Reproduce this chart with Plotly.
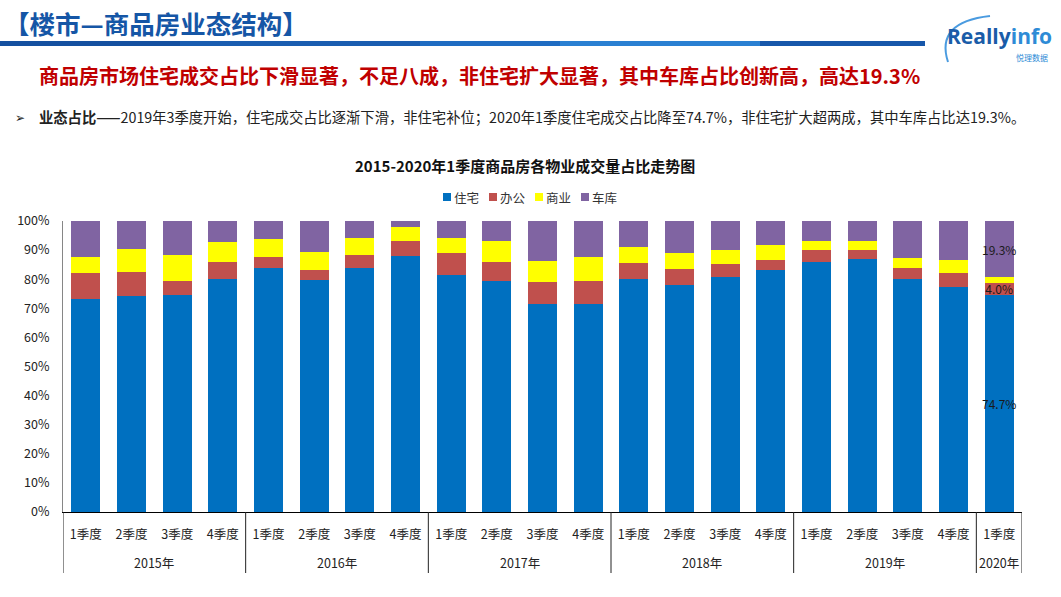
import plotly.graph_objects as go

# ---------------- data ----------------
years = ["2015年"] * 4 + ["2016年"] * 4 + ["2017年"] * 4 + ["2018年"] * 4 + ["2019年"] * 4 + ["2020年"]
quarters = ["1季度", "2季度", "3季度", "4季度"] * 5 + ["1季度"]
year_labels = ["2015年", "2016年", "2017年", "2018年", "2019年", "2020年"]

residential = [73.3, 74.3, 74.5, 80.0, 84.0, 79.7, 83.7, 88.0, 81.5, 79.3, 71.6,
               71.6, 80.2, 77.9, 80.6, 83.0, 85.9, 86.9, 80.0, 77.2, 74.7]
office = [8.9, 8.2, 4.9, 5.9, 3.6, 3.5, 4.7, 5.0, 7.6, 6.6, 7.5,
          7.9, 5.5, 5.7, 4.6, 3.7, 4.1, 3.2, 4.0, 4.8, 4.0]
commercial = [5.4, 8.0, 9.0, 6.8, 6.2, 6.0, 5.8, 5.0, 4.9, 7.4, 7.3,
              8.0, 5.5, 5.5, 4.9, 5.2, 3.2, 2.9, 3.3, 4.5, 2.0]
garage = [12.4, 9.5, 11.6, 7.3, 6.2, 10.8, 5.8, 2.0, 6.0, 6.7, 13.6,
          12.5, 8.8, 10.9, 9.9, 8.1, 6.8, 7.0, 12.7, 13.5, 19.3]

series_names = ["住宅", "办公", "商业", "车库"]
series_values = [residential, office, commercial, garage]
series_colors = ["#0070C0", "#C0504D", "#FFFF00", "#8064A2"]
labelled_series = {"住宅", "办公", "车库"}  # labels shown on the latest bar only

FONT = "Noto Sans CJK SC, Microsoft YaHei, sans-serif"

# category keys (year + quarter) shown with quarter tick text
categories = [y + q for y, q in zip(years, quarters)]

# plot-area geometry in pixels (for positioning decoration in paper coords)
W, H = 1061, 597
L, R_EDGE, TOP, BOT = 63, 1022, 221, 512


def px(x):
    return (x - L) / (R_EDGE - L)


def py(y):
    return (BOT - y) / (BOT - TOP)


fig = go.Figure()
for name, vals, col in zip(series_names, series_values, series_colors):
    n = len(vals)
    texts = [(f"{v:.1f}%" if (i == n - 1 and name in labelled_series) else "") for i, v in enumerate(vals)]
    fig.add_trace(go.Bar(
        name=name,
        x=categories,
        y=vals,
        marker=dict(color=col, line=dict(width=0)),
        text=texts,
        textposition="inside",
        insidetextanchor="middle",
        textangle=0,
        constraintext="none",
        textfont=dict(family=FONT, size=12, color="#1a1a1a"),
        hovertemplate="%{x}<br>" + name + ": %{y:.1f}%<extra></extra>",
        showlegend=False,
    ))

fig.update_layout(
    width=W, height=H,
    barmode="stack",
    bargap=0.36,
    paper_bgcolor="white",
    plot_bgcolor="white",
    margin=dict(l=L, r=W - R_EDGE, t=TOP, b=H - BOT, autoexpand=False),
    font=dict(family=FONT, color="#222222"),
    xaxis=dict(
        type="category",
        tickmode="array", tickvals=categories, ticktext=quarters,
        range=[-0.5, len(categories) - 0.5],
        showline=True, linecolor="#000000", linewidth=1,
        tickfont=dict(family=FONT, size=12.5, color="#222222"),
        ticks="", showgrid=False, ticklabelstandoff=11,
    ),
    yaxis=dict(
        range=[0, 100], dtick=10, ticksuffix="%",
        showline=True, linecolor="#868686", linewidth=1,
        showgrid=False, zeroline=False,
        ticks="", ticklabelstandoff=10,
        tickfont=dict(family=FONT, size=12.5, color="#222222"),
    ),
)

annotations = [
    # header
    dict(text="<b>【楼市—商品房业态结构】</b>", x=px(2), y=py(22), xanchor="left", yanchor="middle",
         font=dict(family=FONT, size=25.5, color="#1556A6")),
    # red headline
    dict(text="<b>商品房市场住宅成交占比下滑显著，不足八成，非住宅扩大显著，其中车库占比创新高，高达19.3%</b>",
         x=px(37), y=py(75), xanchor="left", yanchor="middle",
         font=dict(family=FONT, size=20, color="#C00000")),
    # bullet line
    dict(text="➢", x=px(13), y=py(117), xanchor="left", yanchor="middle",
         font=dict(family=FONT, size=12, color="#222222")),
    dict(text="<b>业态占比——</b>2019年3季度开始，住宅成交占比逐渐下滑，非住宅补位；2020年1季度住宅成交占比降至74.7%，非住宅扩大超两成，其中车库占比达19.3%。",
         x=px(37), y=py(117), xanchor="left", yanchor="middle",
         font=dict(family=FONT, size=14.3, color="#222222")),
    # chart title
    dict(text="<b>2015-2020年1季度商品房各物业成交量占比走势图</b>", x=px(525), y=py(165),
         xanchor="center", yanchor="middle", font=dict(family=FONT, size=15, color="#111111")),
    # logo
    dict(text="<b><span style='color:#1A5CA8'>Really</span><span style='color:#2E8BD6'>info</span></b>",
         x=px(1054), y=py(36), xanchor="right", yanchor="middle",
         font=dict(family="Open Sans, DejaVu Sans, sans-serif", size=21)),
    dict(text="悦理数据", x=px(1050), y=py(57), xanchor="right", yanchor="middle",
         font=dict(family=FONT, size=8, color="#2E8BD6")),
]
for a in annotations:
    a.update(xref="paper", yref="paper", showarrow=False)

shapes = []

# compact legend (colour key squares + names), as in the reference
LEG_X0, LEG_STEP, LEG_Y = 443, 46, 197
for k, (name, col) in enumerate(zip(series_names, series_colors)):
    x0 = LEG_X0 + k * LEG_STEP
    shapes.append(dict(type="rect", xref="paper", yref="paper",
                       x0=px(x0), x1=px(x0 + 8), y0=py(LEG_Y + 4), y1=py(LEG_Y - 4),
                       fillcolor=col, line=dict(width=0)))
    annotations.append(dict(text=name, x=px(x0 + 9), y=py(LEG_Y), xref="paper", yref="paper",
                            xanchor="left", yanchor="middle", showarrow=False,
                            font=dict(family=FONT, size=12.5, color="#333333")))

# year group labels under the quarter labels
group_sizes = [years.count(y) for y in year_labels]
start = 0
for ylab, size in zip(year_labels, group_sizes):
    annotations.append(dict(text=ylab, x=start + (size - 1) / 2, y=py(562), xref="x", yref="paper",
                            xanchor="center", yanchor="middle", showarrow=False,
                            font=dict(family=FONT, size=12.5, color="#222222")))
    start += size
fig.update_layout(annotations=annotations)

# group dividers below the axis
bounds = [-0.5]
acc = -0.5
for size in group_sizes:
    acc += size
    bounds.append(acc)
for b in bounds:
    shapes.append(dict(type="line", xref="x", yref="paper", x0=b, x1=b, y0=0, y1=py(573),
                       line=dict(color="#222222", width=1)))
# header gradient rule
segs = [(0, 180, "#1450A0"), (180, 420, "#1A5DB0"), (420, 560, "#1F6CC2"),
        (560, 760, "#2A80D2"), (760, 925, "#1757AA")]
for x0, x1, c in segs:
    shapes.append(dict(type="rect", xref="paper", yref="paper", x0=px(x0), x1=px(x1),
                       y0=py(46), y1=py(41), fillcolor=c, line=dict(width=0), layer="above"))
# logo swoosh
shapes.append(dict(type="path", xref="paper", yref="paper",
                   path=f"M {px(990)},{py(16)} Q {px(935)},{py(22)} {px(948)},{py(62)}",
                   line=dict(color="#4A9BE0", width=2)))
fig.update_layout(shapes=shapes)

fig.write_html("out.html",
               config={"displayModeBar": False},
               post_script="document.body.style.margin='0';document.body.style.padding='0';")
